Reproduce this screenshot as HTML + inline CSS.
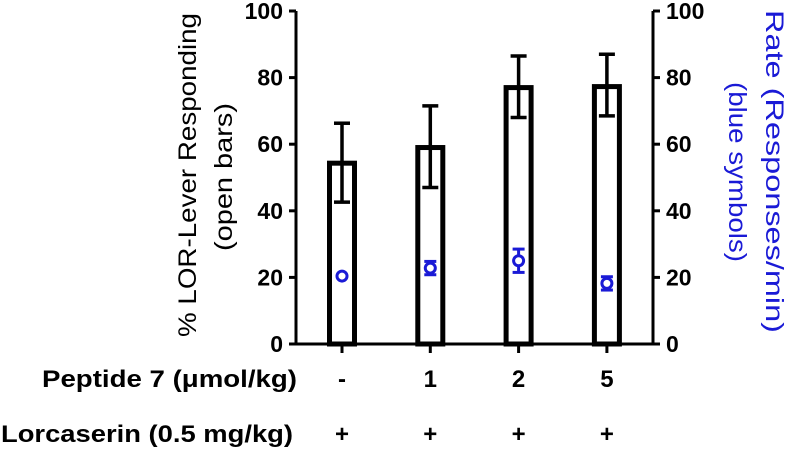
<!DOCTYPE html>
<html><head><meta charset="utf-8"><style>
body{margin:0;background:#fff;}
svg text{font-family:"Liberation Sans",Arial,sans-serif;}
.b{font-weight:bold;}
</style></head><body>
<svg id="chart" width="787" height="450" viewBox="0 0 787 450" xmlns="http://www.w3.org/2000/svg" style="position:absolute;left:0;top:0"></svg>
<script>
const categories = ["-", "1", "2", "5"];
const lorcaserin = ["+", "+", "+", "+"];
const barValues = [54.3, 59, 77, 77.3];
const barErrHigh = [66.3, 71.5, 86.5, 87];
const barErrLow = [42.6, 47, 68, 68.5];
const rateValues = [20.4, 22.8, 25, 18.2];
const rateErr = [0, 2, 3.5, 2];
const ticks = [0, 20, 40, 60, 80, 100];

const NS = "http://www.w3.org/2000/svg";
const svg = document.getElementById('chart');
const X0 = 296, X1 = 653, Y0 = 344, Y1 = 11;
const y = v => Y0 - (v / 100) * (Y0 - Y1);
const xc = i => 342 + i * 88.3;
function el(tag, attrs, parent) {
  const e = document.createElementNS(NS, tag);
  for (const k in attrs) e.setAttribute(k, attrs[k]);
  (parent || svg).appendChild(e);
  return e;
}
let a = el('line', {x1: X0, y1: Y1, x2: X0, y2: Y0 + 1.5, stroke: '#000', 'stroke-width': 3});


a = el('line', {x1: X1, y1: Y1, x2: X1, y2: Y0 + 1.5, stroke: '#000', 'stroke-width': 3});


a = el('line', {x1: X0 - 1.5, y1: Y0, x2: X1 + 1.5, y2: Y0, stroke: '#000', 'stroke-width': 3});


ticks.forEach(t => {
  let l = el('line', {x1: X0 - 7, y1: y(t), x2: X0, y2: y(t), stroke: '#000', 'stroke-width': 3});
  
  
  let tx = el('text', {x: X0 - 13, y: y(t) + 8, 'text-anchor': 'end', 'font-size': 23, class: 'b'});
  tx.textContent = t;
  
  
  l = el('line', {x1: X1, y1: y(t), x2: X1 + 7, y2: y(t), stroke: '#000', 'stroke-width': 3});
  
  
  tx = el('text', {x: X1 + 13, y: y(t) + 8, 'text-anchor': 'start', 'font-size': 23, class: 'b'});
  tx.textContent = t;
  
  
});
categories.forEach((c, i) => {
  const cx = xc(i);
  let l = el('line', {x1: cx, y1: Y0, x2: cx, y2: Y0 + 9, stroke: '#000', 'stroke-width': 3});
  
  
  l = el('line', {x1: cx, y1: y(barErrHigh[i]), x2: cx, y2: y(barErrLow[i]), stroke: '#000', 'stroke-width': 3.5});
  
  
  [barErrHigh[i], barErrLow[i]].forEach(v => {
    const cap = el('line', {x1: cx - 8, y1: y(v), x2: cx + 8, y2: y(v), stroke: '#000', 'stroke-width': 3.5});
    
    
  });
  const b = el('rect', {x: cx - 12.5, y: y(barValues[i]), width: 25, height: Y0 - y(barValues[i]), fill: 'none', stroke: '#000', 'stroke-width': 5});
  
  
  if (rateErr[i] > 0) {
    l = el('line', {x1: cx, y1: y(rateValues[i] + rateErr[i]), x2: cx, y2: y(rateValues[i] - rateErr[i]), stroke: '#1a1ad6', 'stroke-width': 3});
    
    
    [rateValues[i] + rateErr[i], rateValues[i] - rateErr[i]].forEach(v => {
      const cap = el('line', {x1: cx - 6, y1: y(v), x2: cx + 6, y2: y(v), stroke: '#1a1ad6', 'stroke-width': 3});
      
      
    });
  }
  const p = el('circle', {cx: cx, cy: y(rateValues[i]), r: 5, fill: '#fff', stroke: '#1a1ad6', 'stroke-width': 3});
  
  
  let t = el('text', {x: cx, y: 387, 'text-anchor': 'middle', 'font-size': 24, class: 'b'});
  t.textContent = c;
  
  
  t = el('text', {x: cx, y: 442, 'text-anchor': 'middle', 'font-size': 24, class: 'b'});
  t.textContent = lorcaserin[i];
  
  
});
</script>
<svg style="position:absolute;left:0;top:0" width="787" height="450">
<text x="42" y="387" textLength="255" lengthAdjust="spacingAndGlyphs" font-size="24" style="font-family:'Liberation Sans',sans-serif;font-weight:bold">Peptide 7 (μmol/kg)</text>
<text x="1" y="442" textLength="292" lengthAdjust="spacingAndGlyphs" font-size="24" style="font-family:'Liberation Sans',sans-serif;font-weight:bold">Lorcaserin (0.5 mg/kg)</text>
<text transform="translate(196,175) rotate(-90)" x="-162" textLength="324" lengthAdjust="spacingAndGlyphs" font-size="25" style="font-family:'Liberation Sans',sans-serif">% LOR-Lever Responding</text>
<text transform="translate(232,177) rotate(-90)" x="-74" textLength="148" lengthAdjust="spacingAndGlyphs" font-size="25" style="font-family:'Liberation Sans',sans-serif">(open bars)</text>
<text transform="translate(766,172) rotate(90)" x="-162" textLength="323" lengthAdjust="spacingAndGlyphs" font-size="25" fill="#1a1ad6" style="font-family:'Liberation Sans',sans-serif">Rate (Responses/min)</text>
<text transform="translate(729,172) rotate(90)" x="-90" textLength="180" lengthAdjust="spacingAndGlyphs" font-size="25" fill="#1a1ad6" style="font-family:'Liberation Sans',sans-serif">(blue symbols)</text>
</svg>
</body></html>
